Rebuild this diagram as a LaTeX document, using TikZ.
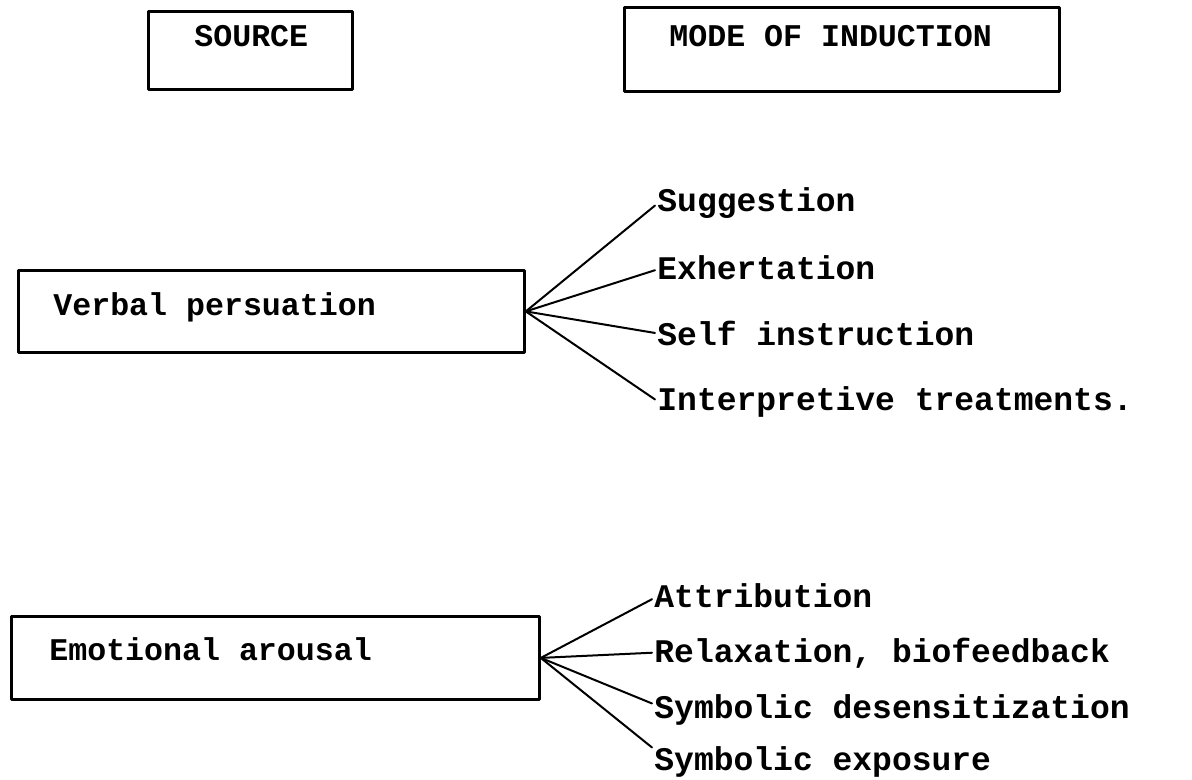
\documentclass[tikz,border=0pt]{standalone}
\usepackage{fontspec}
\setmonofont{Liberation Mono}
\begin{document}
\begin{tikzpicture}[x=0.5pt, y=-0.5pt, font=\fontsize{15.8}{19}\selectfont\ttfamily\bfseries, line join=round, line cap=round,
	hbox/.style={draw, line width=1.4pt, anchor=north west, align=flush left, inner ysep=0pt, execute at begin node={\spaceskip=0pt\relax}},
	item/.style={anchor=base west, inner sep=1pt, font=\fontsize{16.5}{19}\selectfont\ttfamily\bfseries},
	fan/.style={line width=1pt}]
		\useasboundingbox (0,0) rectangle (1192,780);
		% headings
		\node[hbox, inner xsep=23pt, text width=56pt, text height=17.5pt, text depth=21.5pt] (src) at (147,10) {SOURCE};
		\node[hbox, inner xsep=22.5pt, text width=172.5pt, text height=19.5pt, text depth=22.5pt] (mode) at (623,6) {MODE OF INDUCTION};
		% sources
		\node[hbox, inner xsep=17.5pt, text width=218pt, text height=22.5pt, text depth=18.5pt] (vp) at (17,269) {Verbal persuation};
		\node[hbox, inner xsep=19pt, text width=226pt, text height=22pt, text depth=19.5pt] (ea) at (10,615) {Emotional arousal};
		% modes
		\foreach \t/\y/\d [count=\i] in {Suggestion/212/-1, Exhertation/280/-1, Self instruction/345/0, Interpretive treatments./410/1}{
		\node[item] (v\i) at (655,\y) {\t};
		\draw[fan] (vp.east) -- ([yshift=\d pt]v\i.west);
		}
		\foreach \t/\y/\d [count=\i] in {Attribution/607/-2, {Relaxation, biofeedback}/662/0, Symbolic desensitization/718/3, Symbolic exposure/770/7}{
		\node[item] (e\i) at (652,\y) {\t};
		\draw[fan] (ea.east) -- ([yshift=\d pt]e\i.west);
		}
\end{tikzpicture}
\end{document}
